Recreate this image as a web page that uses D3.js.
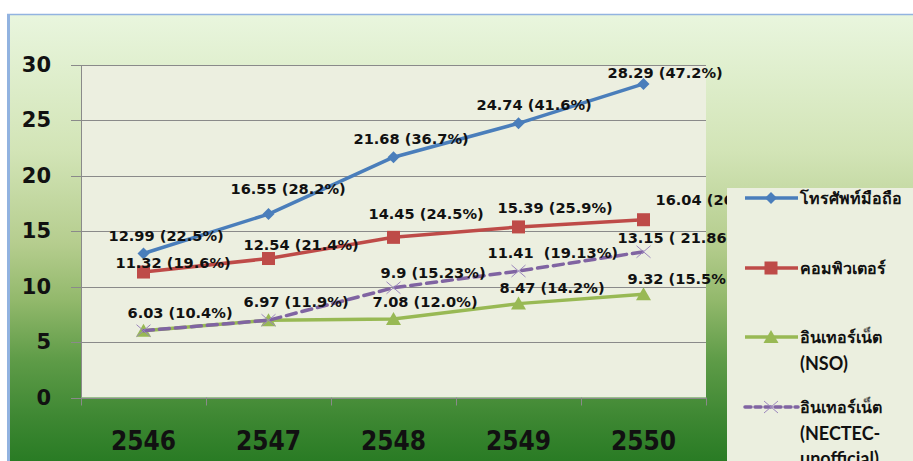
<!DOCTYPE html>
<html><head><meta charset="utf-8">
<script src="https://cdn.jsdelivr.net/npm/d3@7"></script>
<style>body{margin:0;background:#fff}svg{display:block}</style>
</head><body>
<svg id="c" width="913" height="461"></svg>
<script>
const years = ["2546","2547","2548","2549","2550"];
const mobile = [12.99, 16.55, 21.68, 24.74, 28.29];
const mobilePct = ["22.5%","28.2%","36.7%","41.6%","47.2%"];
const computer = [11.32, 12.54, 14.45, 15.39, 16.04];
const computerPct = ["19.6%","21.4%","24.5%","25.9%","26.8%"];
const internetNSO = [6.03, 6.97, 7.08, 8.47, 9.32];
const internetNSOPct = ["10.4%","11.9%","12.0%","14.2%","15.5%"];
const internetNECTEC = [6.03, 6.97, 9.9, 11.41, 13.15];
const internetNECTECLabels = [null, null, "9.9 (15.23%)", "11.41  (19.13%)", "13.15 ( 21.86%)"];
const yTicks = [0,5,10,15,20,25,30];
const seriesNames = [["โทรศัพท์มือถือ"],["คอมพิวเตอร์"],["อินเทอร์เน็ต","(NSO)"],["อินเทอร์เน็ต","(NECTEC-","unofficial)"]];

// label nudges (layout only): [dx of text start from point, dy of text center]
const nudge = [
  [[-35,-18],[-38,-26],[-40,-19],[-42,-19],[-36,-11]],
  [[-28,-10],[-25,-14],[-25,-24],[-21,-19],[12,-20]],
  [[-16,-18],[-25,-19],[-21,-18],[-19,-16],[-16,-16]],
  [null,null,[-13,-15],[-31,-19],[-26,-14]]
];

const svg = d3.select("#c");
const defs = svg.append("defs");
const g1 = defs.append("linearGradient").attr("id","bg").attr("x1",0).attr("y1",0).attr("x2",0).attr("y2",1);
[[0,"#e9f6de"],[0.3,"#d2e4b6"],[0.5,"#b5cd8e"],[0.62,"#93b96c"],[0.75,"#5f9c48"],[0.88,"#3d8732"],[1,"#237820"]]
  .forEach(s=>g1.append("stop").attr("offset",s[0]).attr("stop-color",s[1]));

// outer chart area
svg.append("rect").attr("x",7).attr("y",14).attr("width",913).attr("height",460).attr("fill","url(#bg)");
svg.append("line").attr("x1",7).attr("x2",913).attr("y1",14.5).attr("y2",14.5).attr("stroke","#92b3e0").attr("stroke-width",1.5);
svg.append("line").attr("x1",8.5).attr("x2",8.5).attr("y1",14).attr("y2",461).attr("stroke","#92b3e0").attr("stroke-width",3);

const L = 81, R = 706, T = 65, B = 397.5;
const x = d3.scaleBand().domain(years).range([L,R]);
const y = d3.scaleLinear().domain([0,30]).range([B,T]);
const cx = d => x(d) + x.bandwidth()/2;

svg.append("rect").attr("x",L).attr("y",T).attr("width",R-L).attr("height",B-T).attr("fill","#ecefe0");

// gridlines
svg.append("g").selectAll("line").data(yTicks).join("line")
  .attr("x1",L-10).attr("x2",R).attr("y1",d=>Math.round(y(d))+0.5).attr("y2",d=>Math.round(y(d))+0.5)
  .attr("stroke","#8a8a8a").attr("stroke-width",1);
svg.append("line").attr("x1",L+0.5).attr("x2",L+0.5).attr("y1",T).attr("y2",B).attr("stroke","#8a8a8a");
// x ticks
const bounds = years.map(d=>x(d)).concat([R]);
svg.append("g").selectAll("line").data(bounds).join("line")
  .attr("x1",d=>Math.round(d)+0.5).attr("x2",d=>Math.round(d)+0.5).attr("y1",B).attr("y2",B+8)
  .attr("stroke","#8a8a8a");

// y labels
svg.append("g").selectAll("text").data(yTicks).join("text")
  .attr("x",51).attr("y",d=>y(d)).attr("text-anchor","end").attr("dominant-baseline","central")
  .attr("font-family","DejaVu Sans").attr("font-weight","bold").attr("font-size",21).attr("fill","#111")
  .text(d=>d);
// x labels
svg.append("g").selectAll("text").data(years).join("text")
  .attr("x",d=>cx(d)).attr("y",441).attr("text-anchor","middle").attr("dominant-baseline","central")
  .attr("font-family","DejaVu Sans Condensed, DejaVu Sans").attr("font-stretch","condensed").attr("font-weight","bold").attr("font-size",26).attr("fill","#111")
  .text(d=>d);

const series = [
  {vals:mobile, color:"#4a7ebb", dash:null, marker:"diamond", labels:mobile.map((v,i)=>v+" ("+mobilePct[i]+")")},
  {vals:computer, color:"#be4b48", dash:null, marker:"square", labels:computer.map((v,i)=>v+" ("+computerPct[i]+")")},
  {vals:internetNSO, color:"#98b954", dash:null, marker:"triangle", labels:internetNSO.map((v,i)=>v+" ("+internetNSOPct[i]+")")},
  {vals:internetNECTEC, color:"#8064a2", dash:"10,6", marker:"x", labels:internetNECTECLabels}
];

const line = d3.line().x((d,i)=>cx(years[i])).y(d=>y(d));

function drawMarker(sel, type, color, px, py){
  if(type==="diamond"){
    sel.append("path").attr("d",`M${px},${py-6}L${px+6},${py}L${px},${py+6}L${px-6},${py}Z`).attr("fill",color);
  } else if(type==="square"){
    sel.append("rect").attr("x",px-6.5).attr("y",py-6.5).attr("width",13).attr("height",13).attr("fill",color);
  } else if(type==="triangle"){
    sel.append("path").attr("d",`M${px},${py-7}L${px+7.5},${py+6}L${px-7.5},${py+6}Z`).attr("fill",color);
  } else {
    sel.append("path").attr("d",`M${px-7},${py-6}L${px+7},${py+6}M${px-7},${py+6}L${px+7},${py-6}`)
      .attr("stroke",color).attr("stroke-width",1).attr("fill","none");
  }
}

series.forEach((s)=>{
  svg.append("path").datum(s.vals).attr("d",line).attr("fill","none").attr("stroke",s.color)
    .attr("stroke-width",3.5).attr("stroke-dasharray",s.dash).attr("stroke-linecap",s.dash?"round":"butt")
    .attr("stroke-linejoin","round");
  const mg = svg.append("g");
  s.vals.forEach((v,i)=>drawMarker(mg, s.marker, s.marker==="x" ? "#9b86bd" : s.color, cx(years[i]), y(v)));
});
series.forEach((s,si)=>{
  svg.append("g").selectAll("text").data(s.vals.map((v,i)=>({v,i})).filter(d=>s.labels[d.i]))
    .join("text")
    .attr("x",d=>cx(years[d.i])+nudge[si][d.i][0]).attr("y",d=>y(d.v)+nudge[si][d.i][1])
    .attr("dominant-baseline","central").attr("xml:space","preserve")
    .attr("font-family","DejaVu Sans").attr("font-weight","bold").attr("font-size",14.6).attr("fill","#111")
    .text(d=>s.labels[d.i]);
});

// legend
const lg = svg.append("g");
lg.append("rect").attr("x",727).attr("y",188).attr("width",200).attr("height",290).attr("fill","#ebefdf");
const legY = [198, 268, 337, 407];
series.forEach((s,i)=>{
  const ly = legY[i];
  lg.append("line").attr("x1",745).attr("x2",798).attr("y1",ly).attr("y2",ly).attr("stroke",s.color)
    .attr("stroke-width",3.5).attr("stroke-dasharray",s.dash ? "6,4" : null).attr("stroke-linecap",s.dash?"round":"butt");
  drawMarker(lg, s.marker, s.marker==="x" ? "#9b86bd" : s.color, 771, ly);
  seriesNames[i].forEach((t,j)=>{
    lg.append("text").attr("x",800).attr("y",ly + j*25.5).attr("dominant-baseline","central")
      .attr("font-family", j===0 ? "Noto Sans, DejaVu Sans, sans-serif" : "Lato, Open Sans, sans-serif").attr("font-weight","bold")
      .attr("font-size", j===0 ? 16 : 18).attr("fill","#111").text(t);
  });
});
</script>
</body></html>
